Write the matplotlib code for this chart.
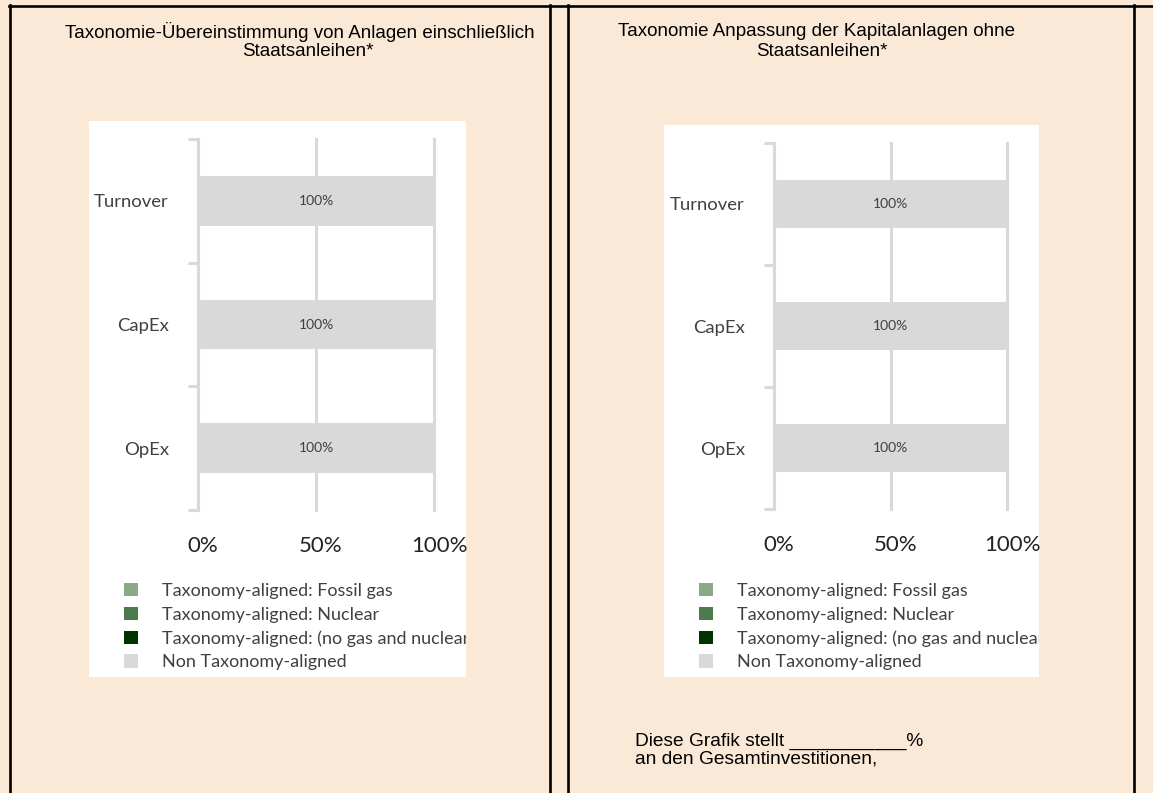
import matplotlib
matplotlib.use("Agg")
import matplotlib.pyplot as plt
from matplotlib.lines import Line2D
import matplotlib.transforms as mtransforms
import numpy as np

# ---------------- data ----------------
categories = ["Turnover", "CapEx", "OpEx"]
series_names = ["Taxonomy-aligned: Fossil gas",
                "Taxonomy-aligned: Nuclear",
                "Taxonomy-aligned: (no gas and nuclear)",
                "Non Taxonomy-aligned"]
series_colors = ["#8AAA87", "#4E7A50", "#003300", "#D9D9D9"]
left_values = [[0, 0, 0], [0, 0, 0], [0, 0, 0], [100, 100, 100]]
right_values = [[0, 0, 0], [0, 0, 0], [0, 0, 0], [100, 100, 100]]
bar_labels_left = ["100%", "100%", "100%"]
bar_labels_right = ["100%", "100%", "100%"]
x_ticks = [0, 50, 100]
x_ticklabels = ["0%", "50%", "100%"]
title_left = ["Taxonomie-Übereinstimmung von Anlagen einschließlich", "Staatsanleihen*"]
title_right = ["Taxonomie Anpassung der Kapitalanlagen ohne", "Staatsanleihen*"]
note_right = ["Diese Grafik stellt ___________%", "an den Gesamtinvestitionen,"]

# ---------------- layout ----------------
W, H = 1153, 793
BG = "#FBE9D8"
GRID = "#D9D9D9"
TXT = "#404040"
CHART_FONT = ["Lato", "DejaVu Sans"]
TITLE_FONT = ["Liberation Sans", "DejaVu Sans"]

fig = plt.figure(figsize=(W / 100, H / 100), dpi=100)
fig.patch.set_facecolor(BG)


def fx(x):
    return x / W


def fy(y):
    return 1 - y / H


def rect_axes(x0, y0, x1, y1):
    return fig.add_axes([fx(x0), fy(y1), (x1 - x0) / W, (y1 - y0) / H])


# table borders
lw = 1.9
for xs, ys in [((9, 1153), (5.5, 5.5)),
               ((10, 10), (5, 793)),
               ((550, 550), (5, 793)),
               ((568, 568), (5, 793)),
               ((1134, 1134), (5, 793))]:
    fig.add_artist(Line2D([fx(xs[0]), fx(xs[1])], [fy(ys[0]), fy(ys[1])],
                          transform=fig.transFigure, color="black", lw=lw))


def draw_panel(box, axbox, values, bar_labels, title, title_xy):
    # white background image area
    bg = rect_axes(*box)
    bg.set_facecolor("white")
    bg.set_xticks([])
    bg.set_yticks([])
    for s in bg.spines.values():
        s.set_visible(False)
    bg.set_xlim(0, 1)
    bg.set_ylim(0, 1)

    ax = rect_axes(*axbox)
    ax.set_facecolor("none")
    y = np.arange(len(categories))
    left = np.zeros(len(categories))
    handles = []
    for name, color, vals in zip(series_names, series_colors, values):
        vals = np.array(vals, dtype=float)
        bc = ax.barh(y, vals, left=left, height=0.4, color=color, label=name, zorder=3)
        handles.append(bc)
        left = left + vals
    for i, lab in enumerate(bar_labels):
        ax.text(left[i] / 2, y[i], lab, ha="center", va="center",
                fontsize=10, color=TXT, family=CHART_FONT, zorder=4)
    ax.set_xlim(0, 100)
    ax.set_ylim(len(categories) - 0.5, -0.5)
    ax.set_yticks(y)
    ax.set_yticklabels(categories, fontsize=13.3, color=TXT, family=CHART_FONT)
    ax.set_yticks(np.arange(len(categories) + 1) - 0.5, minor=True)
    ax.tick_params(axis="y", which="major", length=0, pad=21)
    ax.tick_params(axis="y", which="minor", length=7, width=2.2, color=GRID)
    ax.set_xticks(x_ticks)
    ax.set_xticklabels(x_ticklabels, fontsize=16, color="#222222", family=CHART_FONT)
    ax.tick_params(axis="x", length=0, pad=19)
    shift = mtransforms.ScaledTranslation(5 / 100, 0, fig.dpi_scale_trans)
    for lbl in ax.get_xticklabels():
        lbl.set_transform(lbl.get_transform() + shift)
    for s in ["top", "right", "bottom"]:
        ax.spines[s].set_visible(False)
    ax.spines["left"].set_color(GRID)
    ax.spines["left"].set_linewidth(2.2)
    ax.spines["left"].set_zorder(5)
    ax.grid(axis="x", color=GRID, lw=2.2, zorder=1)
    for gl in ax.xaxis.get_gridlines():
        gl.set_clip_on(False)
    ax.set_axisbelow(True)

    # legend
    leg_x = box[0] + 35
    leg_y = 583
    leg = ax.legend(handles, series_names, loc="upper left",
                    bbox_to_anchor=(fx(leg_x), fy(leg_y)),
                    bbox_transform=fig.transFigure, frameon=False,
                    prop={"family": CHART_FONT, "size": 13},
                    handlelength=0.78, handleheight=0.75, handletextpad=1.35,
                    labelspacing=0.42, borderpad=0, borderaxespad=0)
    for t in leg.get_texts():
        t.set_color(TXT)
        t.set_clip_on(True)
        t.set_clip_box(bg.bbox)

    # title
    for i, line in enumerate(title):
        fig.text(fx(title_xy[i][0]), fy(title_xy[i][1]), line, ha="center", va="center",
                 fontsize=13.5, family=TITLE_FONT, color="black")
    return ax


draw_panel((89, 121, 466, 677), (198, 139, 434, 510), left_values, bar_labels_left,
           title_left, [(300, 32), (308, 51)])
draw_panel((664, 125, 1039, 677), (774, 143, 1007, 509), right_values, bar_labels_right,
           title_right, [(817, 32), (822, 51)])

for i, line in enumerate(note_right):
    fig.text(fx(635), fy(741 + 18 * i), line, ha="left", va="center",
             fontsize=13.8, family=TITLE_FONT, color="black")

fig.savefig("out.png", dpi=100, facecolor=BG)
